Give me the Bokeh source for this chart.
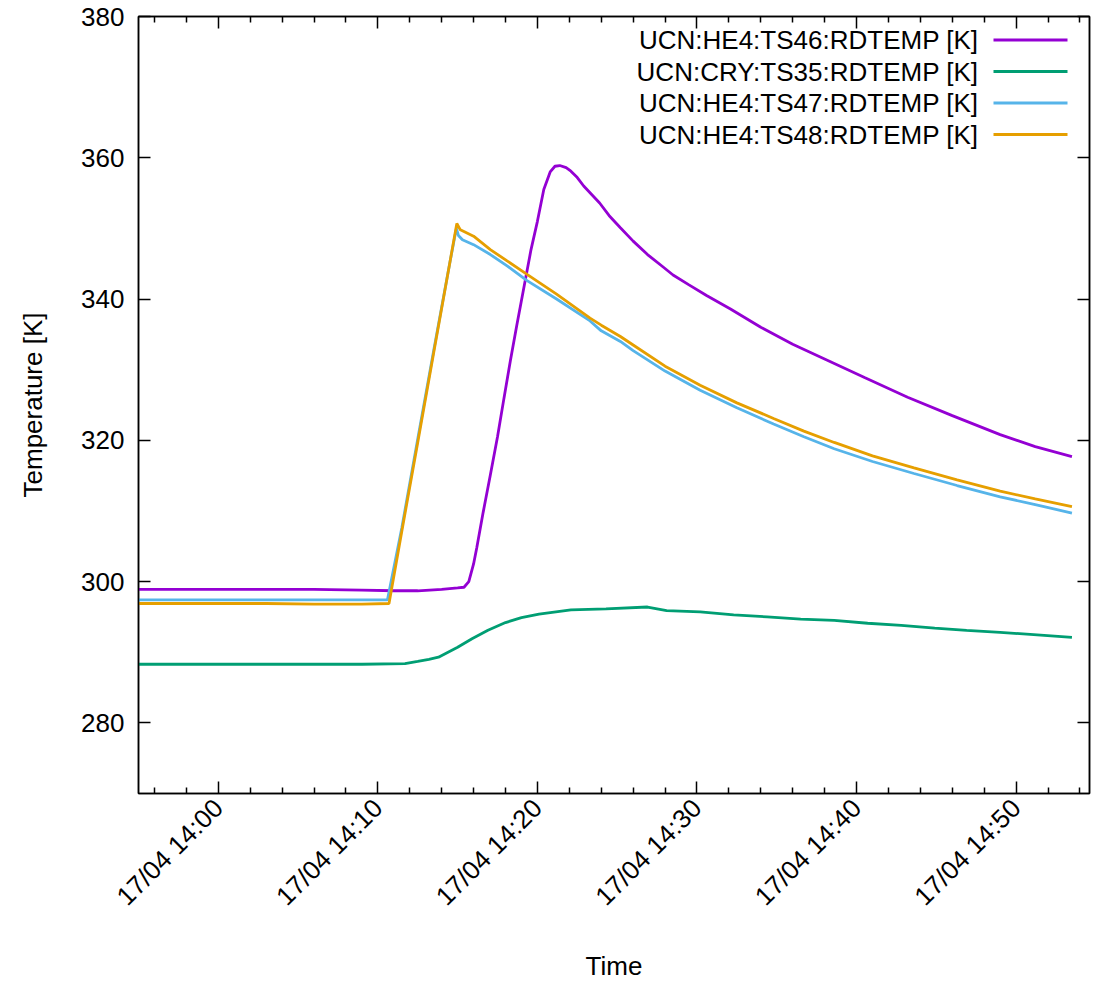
import pandas as pd
from bokeh.plotting import figure
from bokeh.models import (Range1d, LinearAxis, DatetimeAxis, FixedTicker,
                          DatetimeTickFormatter, Label, BoxAnnotation,
                          CustomLabelingPolicy)
from bokeh.embed import file_html
from bokeh.resources import INLINE

# ---------------- data (minutes relative to 17/04 14:00) ----------------
BASE = "2024-04-17 14:00:00"

series_names = ["UCN:HE4:TS46:RDTEMP [K]", "UCN:CRY:TS35:RDTEMP [K]",
                "UCN:HE4:TS47:RDTEMP [K]", "UCN:HE4:TS48:RDTEMP [K]"]
series_colors = ["#9400D3", "#009E73", "#56B4E9", "#E69F00"]

ts46_t = [-5.0, -2.0, 0.0, 3.0, 6.0, 9.0, 11.0, 12.5, 14.0, 15.0, 15.4, 15.7,
          16.0, 16.2, 16.6, 17.05, 17.5, 17.9, 18.3, 18.7, 19.1, 19.6, 20.0,
          20.4, 20.8, 21.1, 21.4, 21.8, 22.1, 22.5, 22.9, 23.4, 23.9, 24.5,
          25.2, 26.0, 26.9, 27.9, 28.5, 29.5, 30.6, 32.1, 34.0, 36.0, 38.2,
          40.5, 43.2, 46.0, 49.0, 51.2, 53.5]
ts46_v = [298.9, 298.9, 298.9, 298.9, 298.9, 298.8, 298.7, 298.7, 298.9, 299.1,
          299.2, 300.0, 302.5, 304.8, 309.8, 315.1, 320.5, 325.9, 331.2, 336.2,
          341.0, 347.0, 351.0, 355.5, 358.0, 358.8, 358.9, 358.6, 358.1, 357.2,
          356.0, 354.8, 353.6, 351.8, 350.1, 348.2, 346.3, 344.5, 343.4, 342.0,
          340.5, 338.6, 336.0, 333.6, 331.3, 328.9, 326.1, 323.5, 320.8, 319.1,
          317.7]

ts35_t = [-5.0, -2.0, 0.0, 3.0, 6.0, 9.0, 11.7, 12.5, 13.2, 13.8, 15.0, 15.9,
          16.9, 18.0, 19.0, 20.1, 22.1, 24.3, 26.9, 28.1, 30.2, 32.3, 34.4,
          36.5, 38.6, 40.7, 42.8, 44.9, 46.9, 49.0, 51.1, 53.5]
ts35_v = [288.3, 288.3, 288.3, 288.3, 288.3, 288.3, 288.4, 288.7, 289.0, 289.3,
          290.7, 291.9, 293.1, 294.2, 294.9, 295.4, 296.0, 296.15, 296.4, 295.9,
          295.7, 295.3, 295.0, 294.7, 294.5, 294.1, 293.8, 293.4, 293.1, 292.8,
          292.5, 292.1]

ts47_t = [-5.0, -2.0, 0.0, 3.0, 6.0, 9.0, 10.6, 11.5, 12.5, 13.5, 14.5, 14.92,
          15.05, 15.3, 16.0, 17.05, 18.1, 19.35, 21.2, 23.3, 24.0, 25.2, 26.0,
          28.0, 30.2, 32.5, 34.8, 36.7, 38.6, 41.0, 43.6, 46.3, 49.0, 51.2, 53.5]
ts47_v = [297.4, 297.4, 297.4, 297.4, 297.4, 297.4, 297.4, 307.6, 320.2, 332.7,
          345.0, 350.0, 349.0, 348.4, 347.7, 346.3, 344.7, 342.6, 340.0, 336.9,
          335.5, 334.0, 332.7, 329.8, 327.1, 324.6, 322.3, 320.5, 318.8, 317.0,
          315.3, 313.6, 312.0, 310.9, 309.7]

ts48_t = [-5.0, -2.0, 0.0, 3.0, 6.0, 9.0, 10.7, 11.5, 12.5, 13.5, 14.5, 14.95,
          15.17, 16.0, 17.05, 18.1, 19.35, 21.2, 23.3, 24.0, 25.2, 26.0, 28.0,
          30.2, 32.5, 34.8, 36.7, 38.6, 41.0, 43.6, 46.3, 49.0, 51.2, 53.5]
ts48_v = [296.9, 296.9, 296.9, 296.9, 296.8, 296.8, 296.9, 307.1, 319.7, 332.4,
          345.0, 350.7, 349.8, 348.9, 347.0, 345.4, 343.5, 340.7, 337.3, 336.3,
          334.7, 333.5, 330.5, 327.8, 325.3, 323.1, 321.3, 319.7, 317.8, 316.1,
          314.4, 312.8, 311.7, 310.6]

x_start_min, x_end_min = -5.0, 54.6
y_start, y_end = 270, 380
y_ticks = [280, 300, 320, 340, 360, 380]
x_major_min = [0, 10, 20, 30, 40, 50]
x_minor_min = [-4, -2, 2, 4, 6, 8, 12, 14, 16, 18, 22, 24, 26, 28, 32, 34, 36,
               38, 42, 44, 46, 48, 52, 54]

# ---------------- helpers ----------------
base = pd.Timestamp(BASE)


def to_dt(mins):
    return [base + pd.Timedelta(minutes=m) for m in mins]


def to_ms(mins):
    return [(base + pd.Timedelta(minutes=m)).value / 1e6 for m in mins]


FONT = "Liberation Sans"
FS = "26px"

p = figure(width=1114, height=983, x_axis_type="datetime",
           output_backend="svg", toolbar_location=None,
           x_range=Range1d(base + pd.Timedelta(minutes=x_start_min),
                           base + pd.Timedelta(minutes=x_end_min)),
           y_range=Range1d(y_start, y_end),
           min_border_left=138, min_border_right=25,
           min_border_top=16, min_border_bottom=186)

p.xgrid.visible = False
p.ygrid.visible = False
p.outline_line_color = "black"
p.outline_line_width = 1.5
p.background_fill_color = "white"
p.border_fill_color = "white"

x_ticker = FixedTicker(ticks=to_ms(x_major_min), minor_ticks=to_ms(x_minor_min))
y_ticker = FixedTicker(ticks=y_ticks, minor_ticks=[])
fmt_str = "%d/%m %H:%M"
x_fmt = DatetimeTickFormatter(minutes=fmt_str, hourmin=fmt_str, hours=fmt_str,
                              minsec=fmt_str, seconds=fmt_str, days=fmt_str,
                              months=fmt_str, years=fmt_str,
                              milliseconds=fmt_str, microseconds=fmt_str)

no_labels = CustomLabelingPolicy(code="""
for (const i of indices)
  indices.unset(i)
return indices
""")


def style_axis(ax, labels=True):
    ax.axis_line_color = "black"
    ax.axis_line_width = 1.5
    ax.major_tick_in = 12
    ax.major_tick_out = 0
    ax.minor_tick_in = 6
    ax.minor_tick_out = 0
    ax.major_tick_line_color = "black"
    ax.major_tick_line_width = 1.5
    ax.minor_tick_line_color = "black"
    ax.minor_tick_line_width = 1.5
    ax.major_label_text_font = FONT
    ax.major_label_text_color = "black"
    ax.major_label_text_font_size = FS
    ax.axis_label_text_font = FONT
    ax.axis_label_text_font_style = "normal"
    ax.axis_label_text_font_size = FS
    ax.axis_label_text_color = "black"
    if not labels:
        # mirrored tick marks only: no labels drawn and no room reserved
        ax.major_label_policy = no_labels
        ax.major_label_text_font_size = "0px"
        ax.major_label_standoff = 0


xax = p.xaxis[0]
xax.ticker = x_ticker
xax.formatter = x_fmt
xax.major_label_orientation = 0.7853981634
xax.axis_label = "Time"
xax.major_label_standoff = 10
xax.axis_label_standoff = 26
style_axis(xax)

yax = p.yaxis[0]
yax.ticker = y_ticker
yax.axis_label = "Temperature [K]"
yax.major_label_standoff = 14
yax.axis_label_standoff = 30
style_axis(yax)

top_ax = DatetimeAxis(ticker=x_ticker, formatter=x_fmt)
style_axis(top_ax, labels=False)
p.add_layout(top_ax, "above")

right_ax = LinearAxis(ticker=y_ticker)
style_axis(right_ax, labels=False)
p.add_layout(right_ax, "right")

all_t = [ts46_t, ts35_t, ts47_t, ts48_t]
all_v = [ts46_v, ts35_v, ts47_v, ts48_v]
for t, v, c in zip(all_t, all_v, series_colors):
    p.line(to_dt(t), v, line_color=c, line_width=2.8)

# gnuplot-style key: text right-aligned, line sample to its right
key_text_right = 840      # frame-relative screen px
key_line_left, key_line_right = 855, 929
key_row0, key_pitch = 753.5, 31.5
for i, (name, c) in enumerate(zip(series_names, series_colors)):
    yrow = key_row0 - i * key_pitch
    p.add_layout(Label(x=key_text_right, y=yrow, x_units="screen", y_units="screen",
                       text=name, text_align="right", text_baseline="middle",
                       text_font=FONT, text_font_size=FS, text_color="black"))
    p.add_layout(BoxAnnotation(left=key_line_left, right=key_line_right,
                               bottom=yrow - 1.5, top=yrow + 1.5,
                               left_units="screen", right_units="screen",
                               bottom_units="screen", top_units="screen",
                               fill_color=c, fill_alpha=1.0, line_color=None))

open("out.html", "w").write(file_html(p, INLINE))
